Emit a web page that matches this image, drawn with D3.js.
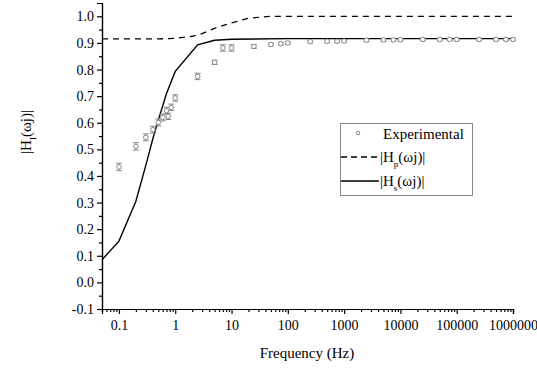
<!DOCTYPE html>
<html>
<head>
<meta charset="utf-8">
<script src="https://cdn.jsdelivr.net/npm/d3@7"></script>
<style>
  body { margin: 0; background: #fff; }
  svg text { font-family: "Liberation Serif", "Times New Roman", "DejaVu Serif", serif !important; }
</style>
</head>
<body>
<div id="container"></div>
<script>
const WIDTH = 537;
const HEIGHT = 368;

// experimental points
var expFreq = [0.1, 0.2, 0.3, 0.4, 0.5, 0.6, 0.7, 0.75, 0.85, 1,
    2.5, 5, 7, 10, 25, 50, 75, 100,
    250, 500, 750, 1000, 2500, 5000, 7500, 10000,
    25000, 50000, 75000, 100000, 250000, 500000, 750000, 1000000];
var expMag = [0.434, 0.511, 0.545, 0.574, 0.601, 0.62, 0.645, 0.624, 0.658, 0.693,
    0.774, 0.827, 0.881, 0.881, 0.887, 0.894, 0.897, 0.9,
    0.905, 0.906, 0.906, 0.907, 0.91, 0.911, 0.911, 0.912,
    0.913, 0.913, 0.913, 0.913, 0.913, 0.913, 0.913, 0.913];
var expErr = [0.014, 0.014, 0.013, 0.013, 0.013, 0.013, 0.013, 0.012, 0.012, 0.012,
    0.012, 0.008, 0.012, 0.012, 0.007, 0.005, 0.005, 0.005,
    0.005, 0.005, 0.005, 0.005, 0.005, 0.005, 0.005, 0.005,
    0.005, 0.005, 0.005, 0.005, 0.005, 0.005, 0.005, 0.005];

// |Hp(wj)| dashed
var hpFreq = [0.05, 0.5, 1, 2, 3, 5, 10, 20, 50, 1000000];
var hpMag = [0.915, 0.915, 0.917, 0.925, 0.935, 0.955, 0.975, 0.993, 1.0, 1.0];

// |Hs(wj)| solid
var hsFreq = [0.05, 0.1, 0.2, 0.3, 0.4, 0.5, 0.7, 1, 2.5, 5, 10, 100, 1000000];
var hsMag = [0.085, 0.155, 0.305, 0.44, 0.54, 0.61, 0.71, 0.793, 0.893, 0.91, 0.914, 0.916, 0.916];

var xMajor = [0.1, 1, 10, 100, 1000, 10000, 100000, 1000000];
var yMajor = [-0.1, 0.0, 0.1, 0.2, 0.3, 0.4, 0.5, 0.6, 0.7, 0.8, 0.9, 1.0];

var SERIF = "'Liberation Serif', 'Times New Roman', 'DejaVu Serif', serif";

var translate = function (x, y) {
    return "translate(" + x + "," + y + ")";
};

var createChart = function () {
    var svg = d3.select("#container").append("svg")
        .attr("width", WIDTH)
        .attr("height", HEIGHT)
        .style("font-family", SERIF);

    var xScale = d3.scaleLog().domain([0.05, 1000000]).range([102, 513]);
    var yScale = d3.scaleLinear().domain([-0.1, 1.05]).range([309, 3]);

    // minor ticks
    var xMinor = [];
    for (var d = 0.01; d < 1000000; d *= 10) {
        for (var k = 2; k <= 9; k++) {
            var v = +(d * k).toPrecision(3);
            if (v >= 0.05 && v <= 1000000) xMinor.push(v);
        }
    }
    var yMinor = d3.range(-0.05, 1.05, 0.1);

    var xAxisMinor = d3.axisBottom(xScale).tickValues(xMinor).tickSize(3).tickFormat("");
    var xAxis = d3.axisBottom(xScale).tickValues(xMajor).tickSize(5).tickPadding(6)
        .tickFormat(function (v) { return v < 1 ? "0.1" : d3.format("d")(v); });
    var yAxisMinor = d3.axisLeft(yScale).tickValues(yMinor).tickSize(3).tickFormat("");
    var yAxis = d3.axisLeft(yScale).tickValues(yMajor).tickSize(5).tickPadding(3)
        .tickFormat(function (v) { return d3.format(".1f")(v).replace("\u2212", "-"); });

    [xAxisMinor, xAxis].forEach(function (ax) {
        svg.append("g").attr("class", "axis").attr("transform", translate(0, 309)).call(ax);
    });
    [yAxisMinor, yAxis].forEach(function (ax) {
        svg.append("g").attr("class", "axis").attr("transform", translate(102, 0)).call(ax);
    });
    svg.selectAll(".axis").attr("font-family", null);
    svg.selectAll(".axis path").attr("stroke", "#000").attr("stroke-width", 1.2);
    svg.selectAll(".axis line").attr("stroke", "#000").attr("stroke-width", 1.2);
    svg.selectAll(".axis text")
        .style("font-family", SERIF)
        .attr("font-size", 14)
        .attr("fill", "#000");

    var line = d3.line()
        .x(function (d) { return xScale(d[0]); })
        .y(function (d) { return yScale(d[1]); });

    svg.append("path")
        .attr("d", line(d3.zip(hpFreq, hpMag)))
        .attr("fill", "none")
        .attr("stroke", "#000")
        .attr("stroke-width", 1.3)
        .attr("stroke-dasharray", "6,5");

    svg.append("path")
        .attr("d", line(d3.zip(hsFreq, hsMag)))
        .attr("fill", "none")
        .attr("stroke", "#000")
        .attr("stroke-width", 1.4);

    // experimental points with error bars
    var pts = expFreq.map(function (f, i) { return {f: f, m: expMag[i], e: expErr[i]}; });
    var gp = svg.append("g").attr("stroke", "#888").attr("fill", "none").attr("stroke-width", 1);
    var eb = gp.selectAll("g.eb").data(pts).enter().append("g").attr("class", "eb");
    eb.append("line")
        .attr("x1", function (d) { return xScale(d.f); })
        .attr("x2", function (d) { return xScale(d.f); })
        .attr("y1", function (d) { return yScale(d.m - d.e); })
        .attr("y2", function (d) { return yScale(d.m + d.e); });
    [-1, 1].forEach(function (s) {
        eb.append("line")
            .attr("x1", function (d) { return xScale(d.f) - 3; })
            .attr("x2", function (d) { return xScale(d.f) + 3; })
            .attr("y1", function (d) { return yScale(d.m + s * d.e); })
            .attr("y2", function (d) { return yScale(d.m + s * d.e); });
    });
    eb.append("circle")
        .attr("cx", function (d) { return xScale(d.f); })
        .attr("cy", function (d) { return yScale(d.m); })
        .attr("r", 2.3)
        .attr("fill", "#fff");

    // legend
    var lg = svg.append("g");
    lg.append("rect").attr("x", 340.5).attr("y", 123.5).attr("width", 132).attr("height", 72)
        .attr("fill", "#fff").attr("stroke", "#888").attr("stroke-width", 1);
    lg.append("circle").attr("cx", 358).attr("cy", 133).attr("r", 1.8)
        .attr("fill", "none").attr("stroke", "#888");
    lg.append("text").attr("x", 383).attr("y", 139).attr("font-size", 15).text("Experimental");
    lg.append("line").attr("x1", 341).attr("x2", 379).attr("y1", 157).attr("y2", 157)
        .attr("stroke", "#000").attr("stroke-width", 1.3).attr("stroke-dasharray", "6,4");
    lg.append("line").attr("x1", 341).attr("x2", 379).attr("y1", 181).attr("y2", 181)
        .attr("stroke", "#000").attr("stroke-width", 1.3);
    var labs = [["p", 162], ["s", 186]];
    labs.forEach(function (l) {
        var t = lg.append("text").attr("x", 380).attr("y", l[1]).attr("font-size", 15);
        t.append("tspan").text("|H");
        t.append("tspan").attr("font-size", 9).attr("dy", 5).text(l[0]);
        t.append("tspan").attr("dy", -5).text("(\u03c9j)|");
    });

    // axis titles
    svg.append("text").attr("x", 307).attr("y", 358).attr("text-anchor", "middle")
        .attr("font-size", 15).text("Frequency (Hz)");
    var yt = svg.append("text").attr("transform", translate(31, 132) + " rotate(-90)")
        .attr("text-anchor", "middle").attr("font-size", 15);
    yt.append("tspan").text("|H");
    yt.append("tspan").attr("font-size", 9).attr("dy", 5).text("I");
    yt.append("tspan").attr("dy", -5).text("(\u03c9j)|");
};

window.onload = createChart;
</script>
</body>
</html>
